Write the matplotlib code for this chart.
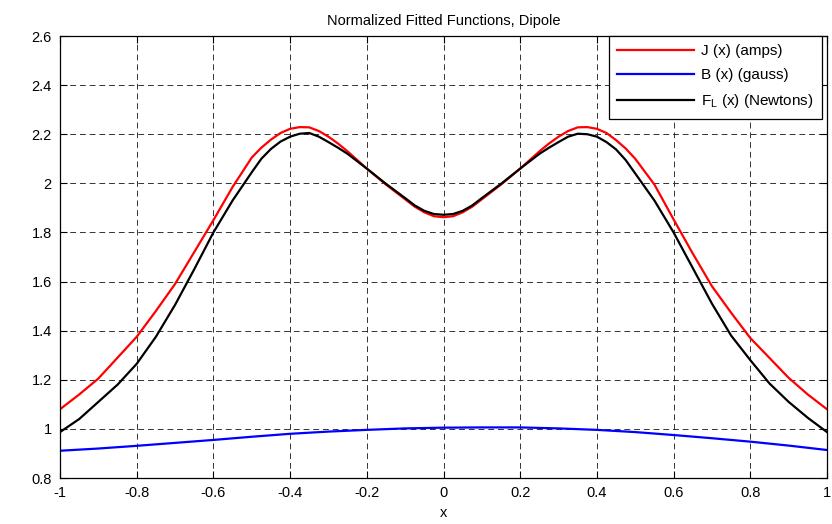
import numpy as np
import matplotlib
matplotlib.use("Agg")
import matplotlib.pyplot as plt

plt.rcParams['font.family'] = ['Liberation Sans', 'DejaVu Sans']

# sample points
x = [-1.0, -0.95, -0.9, -0.85, -0.8, -0.75, -0.7, -0.65, -0.6, -0.55, -0.5,
     -0.475, -0.45, -0.425, -0.4, -0.375, -0.35, -0.325, -0.3, -0.275, -0.25,
     -0.2, -0.15, -0.1, -0.075, -0.05, -0.025, 0.0,
     0.025, 0.05, 0.075, 0.1, 0.15, 0.2,
     0.25, 0.275, 0.3, 0.325, 0.35, 0.375, 0.4, 0.425, 0.45, 0.475, 0.5,
     0.55, 0.6, 0.65, 0.7, 0.75, 0.8, 0.85, 0.9, 0.95, 1.0]

J = [1.08, 1.14, 1.205, 1.29, 1.375, 1.48, 1.59, 1.72, 1.85, 1.985, 2.105,
     2.145, 2.178, 2.205, 2.222, 2.229, 2.228, 2.213, 2.19, 2.162, 2.13,
     2.06, 1.995, 1.935, 1.905, 1.882, 1.866, 1.862,
     1.866, 1.882, 1.905, 1.935, 1.995, 2.06,
     2.13, 2.162, 2.19, 2.213, 2.228, 2.229, 2.222, 2.205, 2.176, 2.142, 2.1,
     1.995, 1.853, 1.714, 1.581, 1.473, 1.37, 1.289, 1.208, 1.14, 1.08]

F = [0.987, 1.04, 1.11, 1.18, 1.265, 1.375, 1.505, 1.65, 1.80, 1.93, 2.045,
     2.1, 2.14, 2.17, 2.19, 2.202, 2.205, 2.19, 2.168, 2.145, 2.12,
     2.06, 1.998, 1.94, 1.91, 1.888, 1.875, 1.872,
     1.875, 1.888, 1.91, 1.94, 1.998, 2.06,
     2.12, 2.145, 2.168, 2.19, 2.202, 2.2, 2.19, 2.168, 2.138, 2.095, 2.04,
     1.93, 1.80, 1.655, 1.51, 1.38, 1.28, 1.185, 1.11, 1.045, 0.987]

xb = [-1.0, -0.9, -0.8, -0.7, -0.6, -0.5, -0.4, -0.3, -0.2, -0.1, 0.0,
      0.1, 0.2, 0.3, 0.4, 0.5, 0.6, 0.7, 0.8, 0.9, 1.0]
B = [0.911, 0.920, 0.931, 0.943, 0.955, 0.968, 0.980, 0.989, 0.996, 1.002, 1.005,
     1.006, 1.006, 1.002, 0.996, 0.987, 0.975, 0.962, 0.948, 0.932, 0.914]

xticks = [-1, -0.8, -0.6, -0.4, -0.2, 0, 0.2, 0.4, 0.6, 0.8, 1]
xticklabels = ['-1', '-0.8', '-0.6', '-0.4', '-0.2', '0', '0.2', '0.4', '0.6', '0.8', '1']
yticks = [0.8, 1, 1.2, 1.4, 1.6, 1.8, 2, 2.2, 2.4, 2.6]
yticklabels = ['0.8', '1', '1.2', '1.4', '1.6', '1.8', '2', '2.2', '2.4', '2.6']

fig = plt.figure(figsize=(8.32, 5.24), dpi=100)
ax = fig.add_axes([60/832, 1 - 478/524, 767/832, 442/524])

ax.plot(x, J, color='#ff0000', lw=1.6, label='J (x) (amps)')
ax.plot(xb, B, color='#0000ff', lw=1.6, label='B (x) (gauss)')
ax.plot(x, F, color='black', lw=1.6, label=r'$\mathregular{F_L}$ (x) (Newtons)')

ax.set_xlim(-1, 1)
ax.set_ylim(0.8, 2.6)
ax.set_xticks(xticks)
ax.set_xticklabels(xticklabels)
ax.set_yticks(yticks)
ax.set_yticklabels(yticklabels)
ax.tick_params(direction='in', length=5, width=0.8, labelsize=10.5,
               top=True, right=True, pad=6)
for s in ax.spines.values():
    s.set_linewidth(0.9)

ax.grid(True, color='#333333', lw=0.7, linestyle=(0, (6, 4)))

ax.set_title('Normalized Fitted Functions, Dipole', fontsize=10.5, pad=8)
ax.set_xlabel('x', fontsize=10.5, labelpad=4)

leg = ax.legend(loc='upper right', bbox_to_anchor=(0.994, 1.0), borderaxespad=0,
                fancybox=False, framealpha=1, edgecolor='black', fontsize=11,
                handlelength=5.0, labelspacing=0.65, handletextpad=0.5,
                borderpad=0.55)
leg.get_frame().set_linewidth(0.9)

fig.savefig('out.png', dpi=100)
